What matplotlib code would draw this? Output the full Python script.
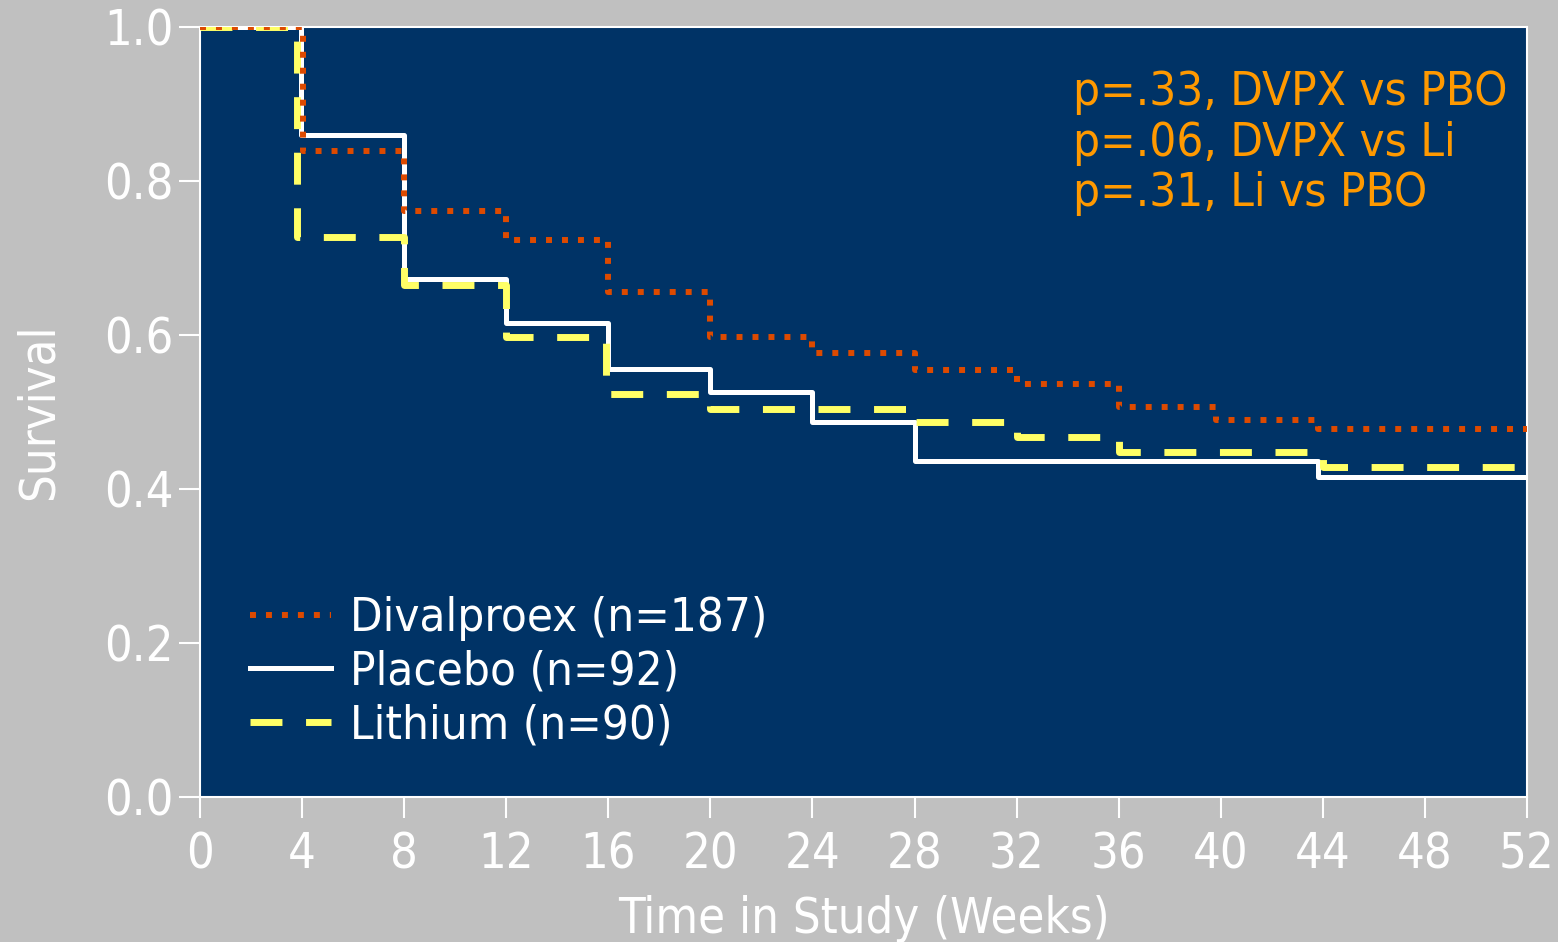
import matplotlib
matplotlib.use("Agg")
import matplotlib.pyplot as plt

plt.rcParams['font.family'] = ['DejaVu Sans']
plt.rcParams['font.stretch'] = 'condensed'
plt.rcParams['lines.scale_dashes'] = False

# Kaplan-Meier style steps (week, survival)
placebo_t = [0, 3.95, 8, 12, 16, 20, 24, 28, 43.8, 52]
placebo_s = [1.0, 0.860, 0.673, 0.615, 0.556, 0.526, 0.487, 0.436, 0.415, 0.415]

divalproex_t = [0, 4.05, 8, 12, 16, 20, 24, 28, 32, 36, 39.8, 43.8, 52]
divalproex_s = [1.0, 0.839, 0.761, 0.723, 0.656, 0.597, 0.576, 0.555, 0.537, 0.507, 0.490, 0.478, 0.478]

lithium_t = [0, 3.8, 8, 12, 15.9, 20, 28, 32, 36, 44, 52]
lithium_s = [1.0, 0.727, 0.665, 0.598, 0.524, 0.504, 0.487, 0.468, 0.448, 0.428, 0.428]

labels = ['Divalproex (n=187)', 'Placebo (n=92)', 'Lithium (n=90)']
pvals = ['p=.33, DVPX vs PBO', 'p=.06, DVPX vs Li', 'p=.31, Li vs PBO']

bg = '#c0c0c0'
panel = '#003366'
orange = '#dd4a00'
yellow = '#ffff66'

fig = plt.figure(figsize=(15.58, 9.42), dpi=100, facecolor=bg)
ax = fig.add_axes([200/1558, 1 - 797/942, 1327/1558, 770/942])
ax.set_facecolor(panel)

l_pbo, = ax.step(placebo_t, placebo_s, where='post', color='white', lw=3.6, zorder=3)
l_li, = ax.step(lithium_t, lithium_s, where='post', color=yellow, lw=5.0,
                dashes=(23, 17), zorder=4)
l_dv, = ax.step(divalproex_t, divalproex_s, where='post', color=orange, lw=4.3,
                dashes=(4.3, 7.2), dash_capstyle='butt', zorder=5)

ax.set_xlim(0, 52)
ax.set_ylim(0, 1.0)
ax.set_xticks(range(0, 53, 4))
ax.set_yticks([0, 0.2, 0.4, 0.6, 0.8, 1.0])
ax.set_yticklabels(['0.0', '0.2', '0.4', '0.6', '0.8', '1.0'])

for s in ax.spines.values():
    s.set_color('white')
    s.set_linewidth(1.5)
ax.tick_params(colors='white', labelsize=35, length=15, width=1.5, direction='out', pad=4)
ax.tick_params(axis='x', pad=9)

ax.set_xlabel('Time in Study (Weeks)', color='white', fontsize=35, labelpad=12)
ax.set_ylabel('Survival', color='white', fontsize=35, labelpad=30)

leg = ax.legend([l_dv, l_pbo, l_li], labels, loc='lower left',
                bbox_to_anchor=(0.006, 0.008), frameon=False, fontsize=34,
                handlelength=1.7, handletextpad=0.4, labelspacing=0.18, labelcolor='white')

for i, t in enumerate(pvals):
    ax.text(0.658, 0.899 - i * 0.066, t, transform=ax.transAxes,
            color='#ff9900', fontsize=34, va='baseline', ha='left')

fig.savefig('out.png', dpi=100, facecolor=bg)
